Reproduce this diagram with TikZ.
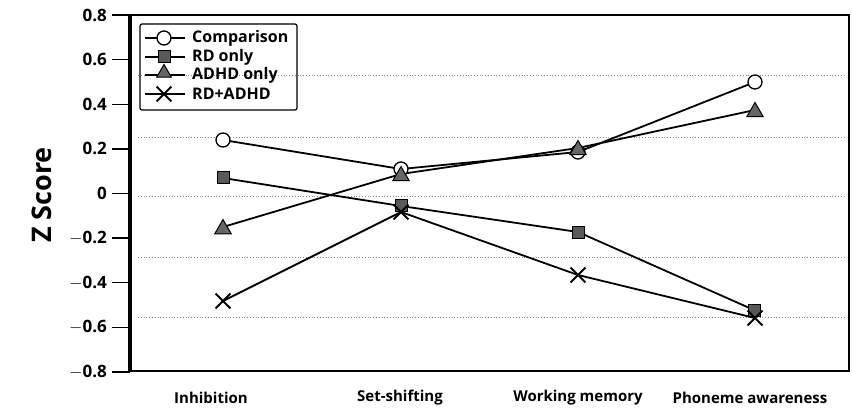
\documentclass[tikz,border=0pt]{standalone}
\usepackage{fontspec}
\setmainfont{Open Sans}
\usetikzlibrary{shapes.geometric,shapes.misc}
\begin{document}
\begin{tikzpicture}[x=1pt,y=-1pt,
  dline/.style={line width=1.8pt,black},
  circmark/.style={circle,draw=black,fill=white,line width=1.3pt,minimum size=14pt,inner sep=0pt},
  sqmark/.style={rectangle,draw=black,fill=black!65,line width=1pt,minimum size=12pt,inner sep=0pt},
  trimark/.style={regular polygon,regular polygon sides=3,draw=black,fill=black!60,line width=1pt,minimum size=19pt,inner sep=0pt},
  xmark/.style={cross out,draw=black,line width=1.8pt,minimum size=13pt,inner sep=0pt},
  grid/.style={black!45,dotted,line width=0.8pt},
  ticklab/.style={anchor=east,font=\fontsize{17}{20}\selectfont\bfseries,inner sep=0pt},
  catlab/.style={font=\fontsize{15}{18}\selectfont\bfseries,inner sep=0pt},
  leglab/.style={anchor=west,font=\fontsize{16}{19}\selectfont\bfseries,inner sep=0pt}]
\useasboundingbox (0,0) rectangle (852,409);
% grid
\foreach \gy in {75,137,196,257,317}{\draw[grid] (138,\gy) -- (846,\gy);}
% frame
\draw[line width=2pt] (130,15) rectangle (849,371);
\draw[line width=3.5pt] (130,14) -- (130,372);
% ticks and labels
\foreach \v/\lab in {0.8/0.8,0.6/0.6,0.4/0.4,0.2/0.2,0/0,-0.2/$-$0.2,-0.4/$-$0.4,-0.6/$-$0.6,-0.8/$-$0.8}{
  \pgfmathsetmacro{\ty}{193.5-223.1*\v}
  \draw[line width=1.3pt] (112,\ty) -- (130,\ty);
  \node[ticklab] (t\v) at (107,\ty) {\lab};
}
\node[rotate=90,font=\fontsize{27}{30}\selectfont\bfseries,inner sep=0pt] (ylab) at (42,195) {Z Score};
% category labels
\node[catlab] (cat1) at (211,398) {Inhibition};
\node[catlab] (cat2) at (400,398) {Set-shifting};
\node[catlab] (cat3) at (578,398) {Working memory};
\node[catlab] (cat4) at (750,398) {Phoneme awareness};
% data coordinates
\coordinate (c1) at (223,140); \coordinate (c2) at (401,169); \coordinate (c3) at (578,152); \coordinate (c4) at (755,82);
\coordinate (r1) at (223,178); \coordinate (r2) at (401,206); \coordinate (r3) at (578,232); \coordinate (r4) at (754,310);
\coordinate (a1) at (223,227); \coordinate (a2) at (401,174); \coordinate (a3) at (578,148); \coordinate (a4) at (755,110);
\coordinate (x1) at (223,301); \coordinate (x2) at (401,212); \coordinate (x3) at (578,275); \coordinate (x4) at (755,318);
% lines
\draw[dline] (c1) -- (c2) -- (c3) -- (c4);
\draw[dline] (r1) -- (r2) -- (r3) -- (r4);
\draw[dline] (a1) -- (a2) -- (a3) -- (a4);
\draw[dline] (x1) -- (x2) -- (x3) -- (x4);
% markers
\foreach \p in {c1,c2,c3,c4}{\node[circmark] (m\p) at (\p) {};}
\foreach \p in {r1,r2,r3,r4}{\node[sqmark] (m\p) at (\p) {};}
\foreach \p in {a1,a2,a3,a4}{\node[trimark] (m\p) at ([yshift=-2pt]\p) {};}
\foreach \p in {x1,x2,x3,x4}{\node[xmark] (m\p) at (\p) {};}
% legend
\draw[line width=1.2pt,rounded corners=2pt] (140,24) rectangle (297,110);
\coordinate (l1a) at (145,38); \coordinate (l1b) at (185,38);
\coordinate (l2a) at (145,57); \coordinate (l2b) at (185,57);
\coordinate (l3a) at (145,75); \coordinate (l3b) at (185,75);
\coordinate (l4a) at (145,94); \coordinate (l4b) at (185,94);
\draw[line width=1.3pt] (l1a) -- (l1b);
\draw[dline] (l2a) -- (l2b);
\draw[dline] (l3a) -- (l3b);
\draw[dline] (l4a) -- (l4b);
\node[circmark] (lm1) at (164,38) {};
\node[sqmark] (lm2) at (164,57) {};
\node[trimark,minimum size=17pt] (lm3) at (164,73) {};
\node[xmark] (lm4) at (164,94) {};
\node[leglab] (lt1) at (192,38) {Comparison};
\node[leglab] (lt2) at (192,57) {RD only};
\node[leglab] (lt3) at (192,75) {ADHD only};
\node[leglab] (lt4) at (192,94) {RD+ADHD};
\end{tikzpicture}
\end{document}
